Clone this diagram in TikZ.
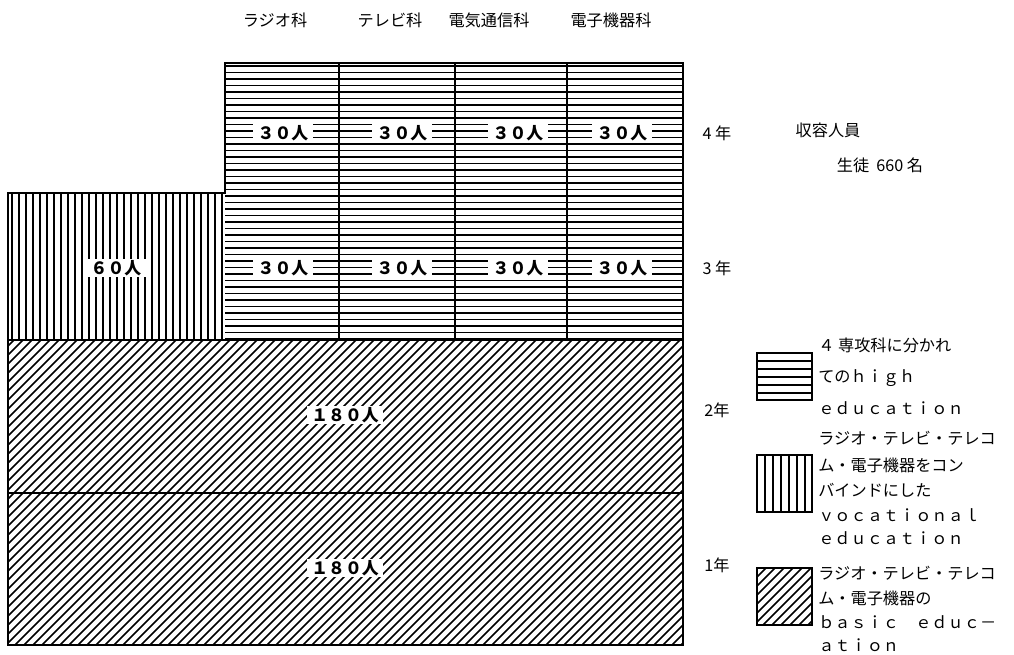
\documentclass[tikz,border=0pt]{standalone}
\usepackage{fontspec}
\setmainfont{Noto Sans CJK JP}
\usetikzlibrary{calc}

\tikzset{
  hatch/.style={line width=1.1pt},
  frame/.style={line width=1.4pt},
  count/.style={fill=white,inner xsep=3pt,inner ysep=1pt,font=\fontsize{12}{14}\selectfont\bfseries},
  side/.style={font=\fontsize{11.5}{13}\selectfont},
  legend/.style={anchor=west,inner sep=0pt,font=\fontsize{11.5}{13}\selectfont},
}

\begin{document}
\begin{tikzpicture}[x=0.025cm,y=-0.025cm]
  \useasboundingbox (0,0) rectangle (1014,654);
  % hatching of the blocks
  \begin{scope}
    \clip (225,63) rectangle (683,340);
    \foreach \y in {66,72.5,...,340} \draw[hatch] (225,\y) -- (683,\y);
  \end{scope}
  \begin{scope}
    \clip (8,193) rectangle (225,340);
    \foreach \x in {12,19,...,225} \draw[hatch] (\x,193) -- (\x,340);
  \end{scope}
  \begin{scope}
    \clip (8,340) rectangle (683,645);
    \foreach \x in {-300,-291,...,690} \draw[hatch] (\x,645) -- ++(305,-305);
  \end{scope}
  % outlines
  \draw[frame] (8,193) -- (225,193) -- (225,63) -- (683,63) -- (683,645) -- (8,645) -- cycle;
  \draw[frame] (8,340) -- (683,340);
  \draw[frame] (8,493) -- (683,493);
  \foreach \x in {339,455,567} \draw[frame] (\x,63) -- (\x,340);
  % counts
  \foreach \x [count=\i] in {283,402,518,622} {
    \node[count] (n4\i) at (\x,133) {３０人};
    \node[count] (n3\i) at (\x,268) {３０人};
  }
  \node[count] (n60) at (116,268) {６０人};
  \node[count] (n2) at (345,415) {１８０人};
  \node[count] (n1) at (345,568) {１８０人};
  % headers and years
  \foreach \x/\t [count=\i] in {275/ラジオ科,390/テレビ科,489/電気通信科,611/電子機器科}
    \node[side] (h\i) at (\x,20) {\t};
  \node[side] (y4) at (717,133) {4 年};
  \node[side] (y3) at (717,268) {3 年};
  \node[side] (y2) at (717,410) {2年};
  \node[side] (y1) at (717,565) {1年};
  \node[side] (cap) at (828,130) {収容人員};
  \node[side] (tot) at (880,165) {生徒\ \ 660 名};
  % legend
  \draw[frame] (757,353) rectangle (812,400);
  \foreach \y in {361,369,...,395} \draw[hatch] (757,\y) -- (812,\y);
  \draw[frame] (757,455) rectangle (812,512);
  \foreach \x in {765,773,...,806} \draw[hatch] (\x,455) -- (\x,512);
  \begin{scope}
    \clip (757,568) rectangle (812,625);
    \foreach \x in {700,709,...,815} \draw[hatch] (\x,625) -- ++(57,-57);
  \end{scope}
  \draw[frame] (757,568) rectangle (812,625);
  \foreach \y/\t [count=\i] in {345/４ 専攻科に分かれ,378/てのｈｉｇｈ,408/ｅｄｕｃａｔｉｏｎ,
      438/ラジオ・テレビ・テレコ,465/ム・電子機器をコン,490/バインドにした,
      515/ｖｏｃａｔｉｏｎａｌ,538/ｅｄｕｃａｔｉｏｎ,
      573/ラジオ・テレビ・テレコ,598/ム・電子機器の,622/ｂａｓｉｃ　ｅｄｕｃ－,645/ａｔｉｏｎ}
    \node[legend] (l\i) at (818,\y) {\t};
\end{tikzpicture}
\end{document}
